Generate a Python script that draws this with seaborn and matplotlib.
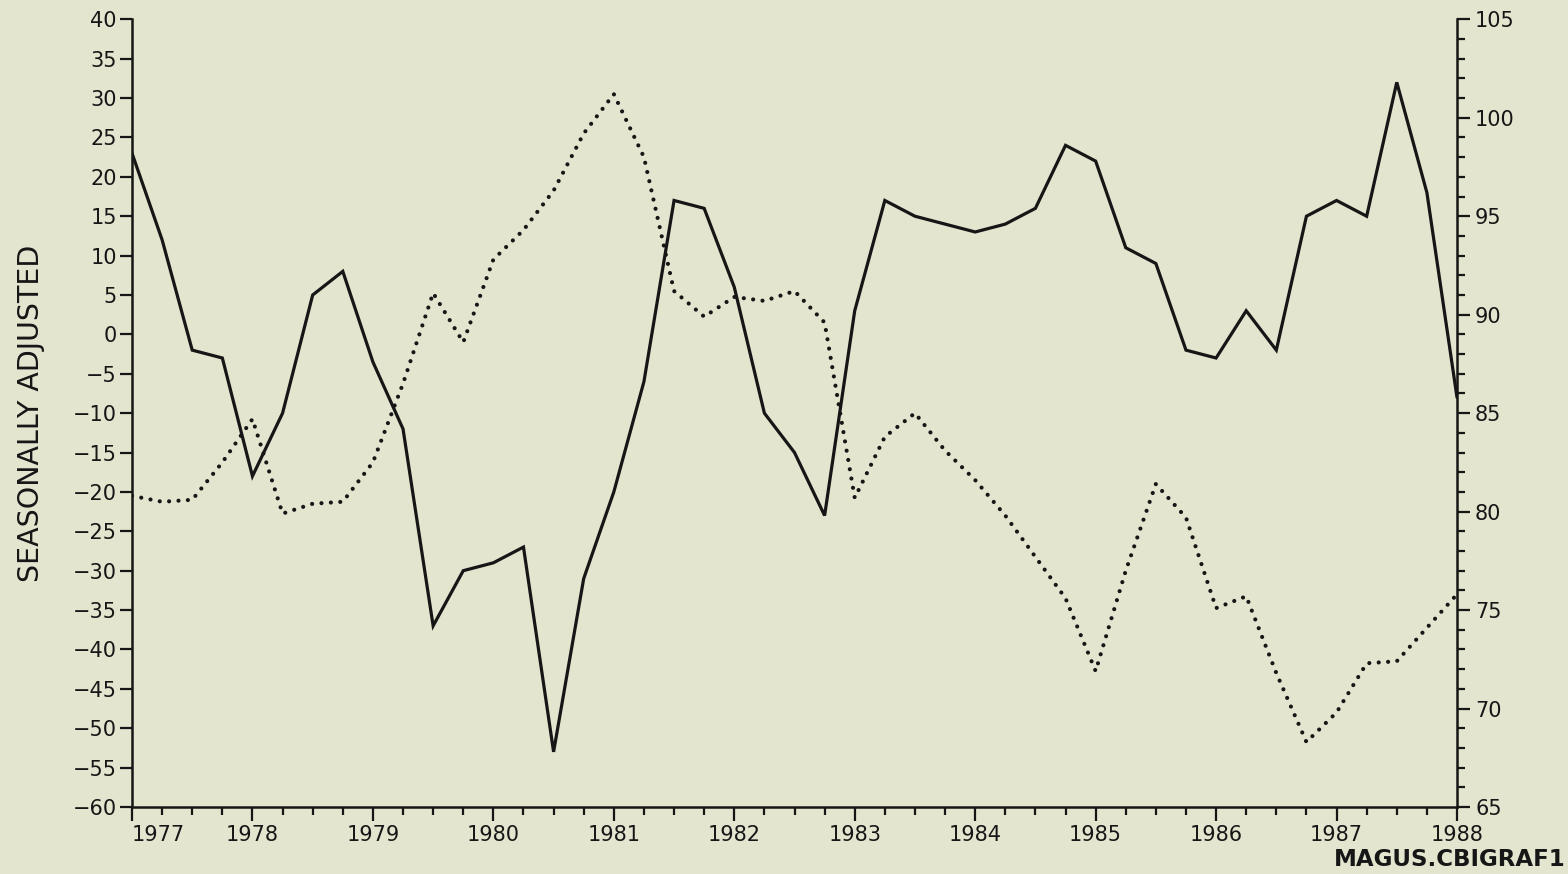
import numpy as np
import pandas as pd
import matplotlib
matplotlib.use("Agg")
import matplotlib.pyplot as plt
from matplotlib.ticker import MultipleLocator, FixedLocator
import seaborn as sns

# Quarterly observations, 1977 Q1 through 1988 Q1
start_year = 1977
n_quarters = 45

# Seasonally adjusted balance (left scale, solid line)
balance = [
    23, 12, -2, -3,
    -18, -10, 5, 8,
    -3.5, -12, -37, -30,
    -29, -27, -53, -31,
    -20, -6, 17, 16,
    6, -10, -15, -23,
    3, 17, 15, 14,
    13, 14, 16, 24,
    22, 11, 9, -2,
    -3, 3, -2, 15,
    17, 15, 32, 18,
    -8,
]

# Index level (right scale, dotted line)
index_level = [
    80.8, 80.5, 80.6, 82.5,
    84.7, 79.9, 80.4, 80.5,
    82.5, 86.5, 91.1, 88.6,
    92.8, 94.3, 96.3, 99.2,
    101.2, 98.0, 91.2, 89.9,
    90.9, 90.7, 91.2, 89.6,
    80.7, 83.8, 85.0, 83.1,
    81.6, 79.8, 77.7, 75.6,
    71.9, 77.0, 81.4, 79.7,
    75.1, 75.7, 71.8, 68.3,
    69.8, 72.3, 72.4, 74.1,
    75.8,
]

year_labels = [str(y) for y in range(1977, 1989)]
left_ticks = list(range(-60, 45, 5))
right_ticks = list(range(65, 110, 5))

quarter = start_year + np.arange(n_quarters) / 4.0
df = pd.DataFrame({"t": quarter, "balance": balance, "index": index_level})

paper = "#e4e5cf"
ink = "#161616"

sns.set_theme(style="ticks")
plt.rcParams["font.family"] = ["DejaVu Sans"]
plt.rcParams["axes.facecolor"] = paper
plt.rcParams["figure.facecolor"] = paper

fig = plt.figure(figsize=(15.68, 8.74), dpi=100)
ax = fig.add_axes([132 / 1568, 1 - 807 / 874, (1457 - 132) / 1568, (807 - 19.3) / 874])
ax.set_facecolor(paper)

sns.lineplot(data=df, x="t", y="balance", ax=ax, color=ink, linewidth=2.3,
             errorbar=None, solid_joinstyle="miter")

ax2 = ax.twinx()
sns.lineplot(data=df, x="t", y="index", ax=ax2, color=ink, linewidth=3.0,
             errorbar=None, linestyle=(0, (0.01, 2.25)), dash_capstyle="round")

ax.set_xlim(1977, 1988)
ax.set_ylim(-60, 40)
ax2.set_ylim(65, 105)

tick_font = 15

# Left scale
ax.yaxis.set_major_locator(FixedLocator(left_ticks))
ax.set_yticklabels([str(v).replace("-", "\u2212") for v in left_ticks])
ax.tick_params(axis="y", which="major", direction="out", length=9, width=1.6,
               labelsize=tick_font, colors=ink, pad=2)

# Time axis
ax.xaxis.set_major_locator(FixedLocator(list(range(1977, 1989))))
ax.xaxis.set_minor_locator(MultipleLocator(0.25))
ax.set_xticklabels(year_labels)
ax.tick_params(axis="x", which="major", direction="out", length=10, width=1.6,
               labelsize=tick_font, colors=ink, pad=3)
ax.tick_params(axis="x", which="minor", direction="out", length=6, width=1.6, colors=ink)
first = ax.get_xticklabels()[0]
first.set_horizontalalignment("left")

# Right scale
ax2.yaxis.set_major_locator(FixedLocator(right_ticks))
ax2.yaxis.set_minor_locator(MultipleLocator(1))
ax2.set_yticklabels([str(v) for v in right_ticks])
ax2.tick_params(axis="y", which="major", direction="out", length=9, width=1.6,
                labelsize=tick_font, colors=ink, pad=4)
ax2.tick_params(axis="y", which="minor", direction="out", length=6, width=1.6, colors=ink)

for a in (ax, ax2):
    a.set_xlabel("")
    a.spines["top"].set_visible(False)
    for s in ("left", "right", "bottom"):
        a.spines[s].set_color(ink)
        a.spines[s].set_linewidth(1.8)
ax.spines["right"].set_visible(False)
ax2.spines["left"].set_visible(False)
ax2.spines["bottom"].set_visible(False)
ax2.set_ylabel("")

ax.set_ylabel("SEASONALLY ADJUSTED", fontsize=20.5, color=ink)
ax.yaxis.set_label_coords(-0.066, 0.5)

fig.text(1566 / 1568, 1 - 859 / 874, "MAGUS.CBIGRAF1", ha="right", va="center",
         fontsize=16.5, fontweight="bold", color=ink)

fig.savefig("out.png", dpi=100, facecolor=paper)
